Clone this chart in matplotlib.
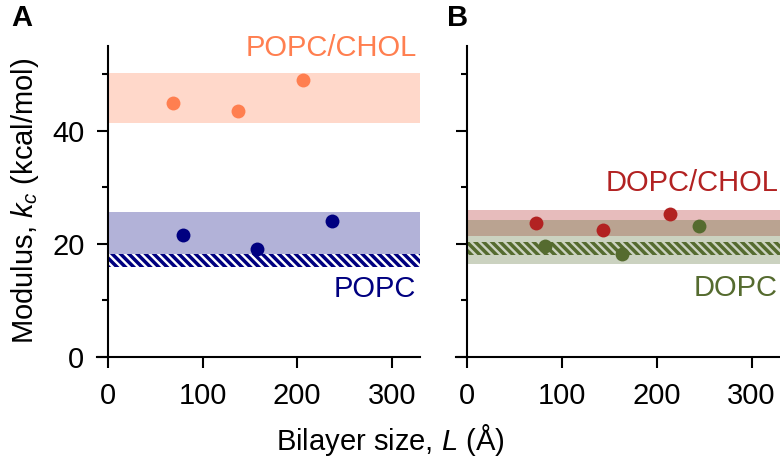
import matplotlib
matplotlib.use("Agg")
import matplotlib.pyplot as plt

plt.rcParams["font.family"] = ["Liberation Sans", "DejaVu Sans"]
plt.rcParams["mathtext.fontset"] = "custom"
plt.rcParams["mathtext.rm"] = "Liberation Sans"
plt.rcParams["mathtext.it"] = "Liberation Sans:italic"
plt.rcParams["hatch.linewidth"] = 2.5

# bilayer sizes (Å) and bending moduli (kcal/mol)
popc_chol_L = [69, 137, 206]
popc_chol_kc = [45.0, 43.5, 49.0]
popc_L = [79, 158, 237]
popc_kc = [21.6, 19.1, 24.1]
dopc_chol_L = [72, 143, 214]
dopc_chol_kc = [23.7, 22.5, 25.3]
dopc_L = [82, 163, 245]
dopc_kc = [19.7, 18.3, 23.1]

# shaded ranges (lo, hi)
popc_chol_band = (41.3, 50.3)
popc_band = (18.3, 25.6)
popc_exp = (16.0, 18.3)
dopc_chol_band = (21.4, 26.0)
dopc_band = (16.5, 24.2)
dopc_exp = (18.0, 20.4)

XMIN, XMAX = -12, 330
band_x = [0, XMAX]
FS = 21

fig = plt.figure(figsize=(7.8, 4.7), dpi=100)
ax_a = fig.add_axes([0.124, 0.2404, 0.4145, 0.6617])
ax_b = fig.add_axes([0.5846, 0.2404, 0.4154, 0.6617])


def style(ax, labels=True):
    ax.set_xlim(XMIN, XMAX)
    ax.set_ylim(0, 55)
    ax.spines["top"].set_visible(False)
    ax.spines["right"].set_visible(False)
    ax.spines["left"].set_position(("data", 0))
    for s in ("left", "bottom"):
        ax.spines[s].set_linewidth(1.5)
    ax.set_xticks([0, 100, 200, 300])
    ax.set_yticks([0, 20, 40])
    ax.set_yticks([10, 30, 50], minor=True)
    ax.tick_params(which="major", length=8, width=1.5, pad=9, labelsize=FS)
    ax.tick_params(axis="x", which="major", pad=10)
    ax.tick_params(which="minor", length=4.5, width=1.5)
    if not labels:
        ax.set_yticklabels([])


def band(ax, lims, color):
    ax.fill_between(band_x, lims[0], lims[1], color=color, alpha=0.3, lw=0, zorder=1)


def hatch(ax, lims, color):
    ax.fill_between(band_x, lims[0], lims[1], facecolor="none", edgecolor=color,
                    hatch="\\\\\\\\", lw=0, zorder=2)


# panel A
band(ax_a, popc_chol_band, "coral")
band(ax_a, popc_band, "navy")
hatch(ax_a, popc_exp, "navy")
ax_a.scatter(popc_chol_L, popc_chol_kc, s=100, color="coral", zorder=3, lw=0)
ax_a.scatter(popc_L, popc_kc, s=100, color="navy", zorder=3, lw=0)
ax_a.text(327, 54.6, "POPC/CHOL", color="coral", fontsize=FS, ha="right", va="center")
ax_a.text(326, 12.0, "POPC", color="navy", fontsize=FS, ha="right", va="center")
style(ax_a)

# panel B
band(ax_b, dopc_chol_band, "firebrick")
band(ax_b, dopc_band, "darkolivegreen")
hatch(ax_b, dopc_exp, "darkolivegreen")
ax_b.scatter(dopc_chol_L, dopc_chol_kc, s=100, color="firebrick", zorder=3, lw=0)
ax_b.scatter(dopc_L, dopc_kc, s=100, color="darkolivegreen", zorder=3, lw=0)
ax_b.text(328, 30.7, "DOPC/CHOL", color="firebrick", fontsize=FS, ha="right", va="center")
ax_b.text(328, 12.2, "DOPC", color="darkolivegreen", fontsize=FS, ha="right", va="center")
style(ax_b, labels=False)

fig.text(25 / 780, 1 - 201 / 470, "Modulus, $k_c$ (kcal/mol)", rotation=90,
         fontsize=FS, ha="center", va="center")
fig.text(0.5, 1 - 440 / 470, "Bilayer size, $L$ (Å)", fontsize=FS, ha="center", va="center")
fig.text(22 / 780, 1 - 18 / 470, "A", fontsize=FS, fontweight="bold", ha="center", va="center")
fig.text(458 / 780, 1 - 18 / 470, "B", fontsize=FS, fontweight="bold", ha="center", va="center")

fig.savefig("out.png", dpi=100)
